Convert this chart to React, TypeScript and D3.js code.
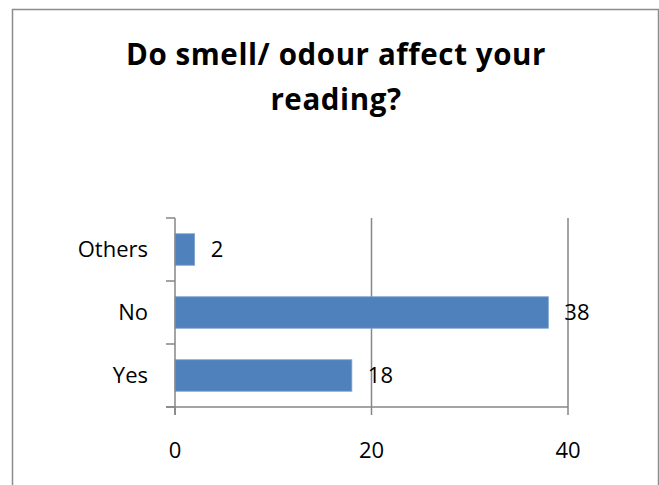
import React from "react";
import * as d3 from "d3";

// Survey responses
const categories = ["Yes", "No", "Others"];
const counts = [18, 38, 2];
const xTicks = [0, 20, 40];
const titleLines = ["Do smell/ odour affect your", "reading?"];

const W = 659;
const H = 485;
const FONT = "'Open Sans', 'Liberation Sans', sans-serif";

export default function App() {
  const x = d3.scaleLinear().domain([0, 40]).range([175, 568]);
  // Top category drawn first (Others at the top, Yes at the bottom)
  const y = d3
    .scaleBand<string>()
    .domain([...categories].reverse())
    .range([218, 407])
    .paddingInner(0.5)
    .paddingOuter(0.25);

  const step = y.step();
  const boundaries = d3.range(categories.length + 1).map((i) => 218 + i * step);
  const axisColor = "#868686";

  return (
    <svg
      width={W}
      height={H}
      style={{ position: "absolute", left: 0, top: 0, background: "#fff" }}
    >
      {/* outer frame */}
      <rect x={12.5} y={9.5} width={646} height={500} fill="none" stroke="#8c8c8c" strokeWidth={1.5} />

      {/* title */}
      {titleLines.map((t, i) => (
        <text
          key={i}
          x={336}
          y={65 + i * 45}
          textAnchor="middle"
          fontFamily={FONT}
          fontWeight={700}
          fontSize={29.5}
          letterSpacing={0.6}
          fill="#000"
        >
          {t}
        </text>
      ))}

      {/* vertical gridlines */}
      {xTicks
        .filter((t) => t !== 0)
        .map((t) => (
          <line key={t} x1={x(t)} x2={x(t)} y1={218} y2={407} stroke={axisColor} strokeWidth={1.5} />
        ))}

      {/* bars */}
      {categories.map((c, i) => (
        <rect
          key={c}
          x={x(0)}
          y={y(c)}
          width={x(counts[i]) - x(0)}
          height={y.bandwidth()}
          fill="#4f81bd"
          stroke="#7ea3cf"
          strokeWidth={0.8}
        />
      ))}

      {/* value labels */}
      {categories.map((c, i) => (
        <text
          key={c}
          x={x(counts[i]) + 16}
          y={(y(c) as number) + y.bandwidth() / 2}
          dy="0.36em"
          fontFamily={FONT}
          fontSize={22}
          fill="#000"
        >
          {counts[i]}
        </text>
      ))}

      {/* y axis */}
      <line x1={x(0)} x2={x(0)} y1={218} y2={415} stroke={axisColor} strokeWidth={1.5} />
      {boundaries.map((b, i) => (
        <line key={i} x1={166} x2={x(0)} y1={b} y2={b} stroke={axisColor} strokeWidth={1.5} />
      ))}
      {categories.map((c) => (
        <text
          key={c}
          x={148}
          y={(y(c) as number) + y.bandwidth() / 2}
          dy="0.36em"
          textAnchor="end"
          fontFamily={FONT}
          fontSize={22}
          fill="#000"
        >
          {c}
        </text>
      ))}

      {/* x axis */}
      <line x1={166} x2={x(40)} y1={407} y2={407} stroke={axisColor} strokeWidth={1.5} />
      {xTicks.map((t) => (
        <g key={t}>
          <line x1={x(t)} x2={x(t)} y1={407} y2={415} stroke={axisColor} strokeWidth={1.5} />
          <text
            x={x(t)}
            y={458}
            textAnchor="middle"
            fontFamily={FONT}
            fontSize={22}
            fill="#000"
          >
            {t}
          </text>
        </g>
      ))}
    </svg>
  );
}
